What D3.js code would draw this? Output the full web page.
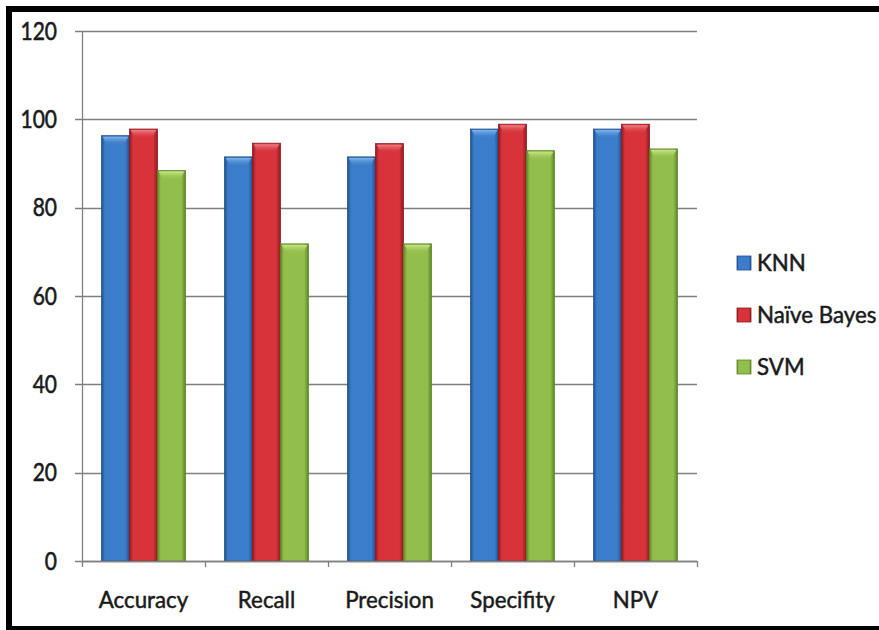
<!DOCTYPE html>
<html><head><meta charset="utf-8">
<script src="https://cdn.jsdelivr.net/npm/d3@7"></script>
<style>html,body{margin:0;padding:0;background:#fff;}svg{display:block;}</style>
</head><body>
<svg id="chart" width="879" height="630"></svg>
<script>
const categories = ["Accuracy", "Recall", "Precision", "Specifity", "NPV"];
const seriesNames = ["KNN", "Naïve Bayes", "SVM"];
const knn = [96.3, 91.5, 91.5, 97.8, 97.8];
const naiveBayes = [97.8, 94.6, 94.5, 98.9, 98.9];
const svm = [88.4, 71.8, 71.8, 92.9, 93.3];
const yTicks = [0, 20, 40, 60, 80, 100, 120];

const seriesValues = [knn, naiveBayes, svm];
const colors = [
  {edge: "#214f8c", mid: "#3b7dcb", light: "#86b9ec"},
  {edge: "#8e1a20", mid: "#d8323a", light: "#f0868a"},
  {edge: "#5f8529", mid: "#92bf4c", light: "#cbe98a"}
];

const svg = d3.select("#chart");
const font = "Lato, 'Open Sans', sans-serif";
const textColor = "#1a1a1a";

const x0 = d3.scaleBand().domain(categories).range([82, 697]).padding(0);
const x1 = d3.scaleBand().domain(d3.range(seriesNames.length)).range([0, x0.bandwidth()]).paddingInner(0).paddingOuter(0.7);
const y = d3.scaleLinear().domain([0, 120]).range([561, 31]);

const defs = svg.append("defs");
colors.forEach((c, i) => {
  const g = defs.append("linearGradient").attr("id", "g" + i).attr("x1", "0").attr("x2", "1").attr("y1", "0").attr("y2", "0");
  g.append("stop").attr("offset", "0").attr("stop-color", c.edge);
  g.append("stop").attr("offset", "0.12").attr("stop-color", c.mid);
  g.append("stop").attr("offset", "0.85").attr("stop-color", c.mid);
  g.append("stop").attr("offset", "1").attr("stop-color", c.edge);
  const t = defs.append("linearGradient").attr("id", "t" + i).attr("x1", "0").attr("x2", "0").attr("y1", "0").attr("y2", "1");
  t.append("stop").attr("offset", "0").attr("stop-color", c.light).attr("stop-opacity", 0.95);
  t.append("stop").attr("offset", "1").attr("stop-color", c.mid).attr("stop-opacity", 0);
});

// gridlines
svg.append("g").selectAll("line").data(yTicks).join("line")
  .attr("x1", 75).attr("x2", 697)
  .attr("y1", d => Math.round(y(d)) + 0.5).attr("y2", d => Math.round(y(d)) + 0.5)
  .attr("stroke", "#808080").attr("stroke-width", 1.3);

// y axis line
svg.append("line").attr("x1", 82.5).attr("x2", 82.5).attr("y1", y(120)).attr("y2", y(0))
  .attr("stroke", "#808080").attr("stroke-width", 1.3);

// y tick labels
svg.append("g").selectAll("text").data(yTicks).join("text")
  .attr("transform", d => `translate(57,${y(d) + 8.5}) scale(0.84,1)`)
  .attr("text-anchor", "end")
  .attr("font-family", font).attr("font-size", 25).attr("fill", textColor)
  .attr("stroke", textColor).attr("stroke-width", 0.6)
  .text(d => d);

// bars
const groups = svg.append("g").selectAll("g").data(categories).join("g")
  .attr("transform", d => `translate(${x0(d)},0)`);
groups.each(function(cat, ci) {
  const g = d3.select(this);
  seriesValues.forEach((vals, si) => {
    const bx = x1(si), bw = x1.bandwidth(), by = y(vals[ci]), bh = y(0) - y(vals[ci]);
    g.append("rect").attr("x", bx).attr("y", by).attr("width", bw).attr("height", bh)
      .attr("fill", `url(#g${si})`).attr("stroke", colors[si].edge).attr("stroke-width", 0.8);
    g.append("path")
      .attr("d", `M${bx + 1},${by + 1} L${bx + bw - 1},${by + 1} L${bx + bw - 6},${by + 10} L${bx + 6},${by + 10} Z`)
      .attr("fill", `url(#t${si})`);
  });
});

// x axis
svg.append("line").attr("x1", 82).attr("x2", 697).attr("y1", 561.5).attr("y2", 561.5)
  .attr("stroke", "#808080").attr("stroke-width", 1.3);
const boundaries = categories.map(c => x0(c)).concat([x0(categories[categories.length - 1]) + x0.bandwidth()]);
svg.append("g").selectAll("line").data(boundaries).join("line")
  .attr("x1", d => d + 0.5).attr("x2", d => d + 0.5).attr("y1", 561).attr("y2", 567)
  .attr("stroke", "#808080").attr("stroke-width", 1.3);

svg.append("g").selectAll("text").data(categories).join("text")
  .attr("transform", d => `translate(${x0(d) + x0.bandwidth() / 2},608) scale(0.93,1)`)
  .attr("text-anchor", "middle")
  .attr("font-family", font).attr("font-size", 24).attr("fill", textColor)
  .attr("stroke", textColor).attr("stroke-width", 0.5)
  .text(d => d);

// legend
const legendY = [263, 315, 367];
const lg = svg.append("g").selectAll("g").data(seriesNames).join("g")
  .attr("transform", (d, i) => `translate(737,${legendY[i]})`);
lg.append("rect").attr("x", 0).attr("y", -7).attr("width", 14).attr("height", 14)
  .attr("fill", (d, i) => `url(#g${i})`).attr("stroke", (d, i) => colors[i].edge).attr("stroke-width", 0.8);
lg.append("text").attr("transform", "translate(20,8) scale(0.97,1)")
  .attr("font-family", font).attr("font-size", 23).attr("fill", textColor)
  .attr("stroke", textColor).attr("stroke-width", 0.5)
  .text(d => d);

// border (right side falls outside the picture)
svg.append("path").attr("d", "M900,9 L9,9 L9,629 L900,629")
  .attr("fill", "none").attr("stroke", "#000").attr("stroke-width", 6);
</script>
</body></html>
